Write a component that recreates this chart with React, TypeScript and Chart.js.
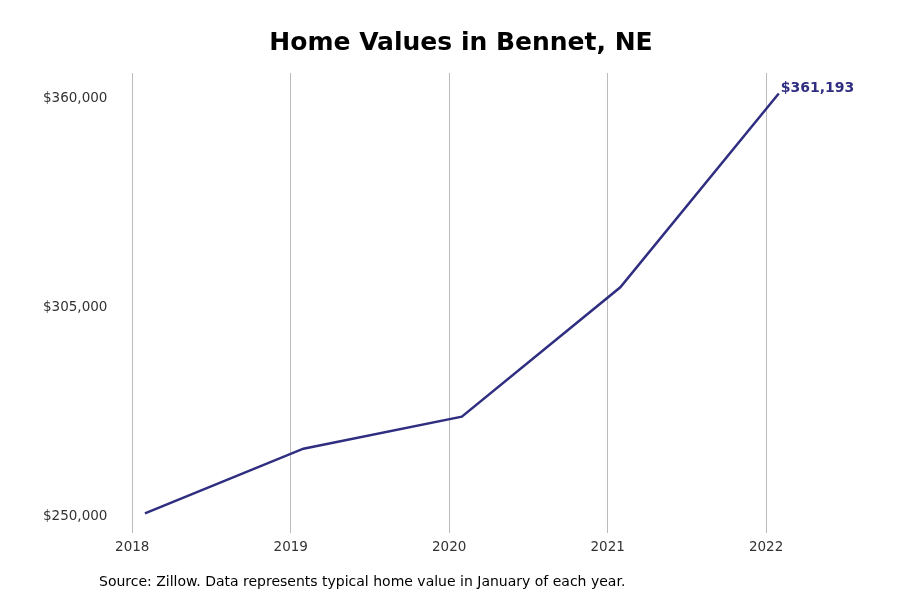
import { useEffect, useRef } from 'react';
import { Chart, registerables } from 'chart.js';

Chart.register(...registerables);

// January of each year, plotted a little after the year tick
const yearPositions = [2018.08, 2019.08, 2020.08, 2021.08, 2022.08];
const homeValues = [250900, 267900, 276300, 310300, 361193];
const yearTicks = [2018, 2019, 2020, 2021, 2022];
const valueTicks = [250000, 305000, 360000];

const TITLE = 'Home Values in Bennet, NE';
const SOURCE = 'Source: Zillow. Data represents typical home value in January of each year.';
const LINE = '#2f2e80';
const FONT = '"DejaVu Sans", sans-serif';

const money = (v: number) => '$' + Math.round(v).toLocaleString('en-US');

const textPlugin = {
  id: 'textPlugin',
  afterDraw(chart: any) {
    const ctx = chart.ctx;
    ctx.save();
    ctx.fillStyle = '#000';
    ctx.textBaseline = 'middle';
    ctx.textAlign = 'center';
    ctx.font = `bold 25px ${FONT}`;
    ctx.fillText(TITLE, 461, 43);
    ctx.textAlign = 'left';
    ctx.font = `14px ${FONT}`;
    ctx.fillText(SOURCE, 99, 582);

    const meta = chart.getDatasetMeta(0);
    const last = meta.data[meta.data.length - 1];
    const val = homeValues[homeValues.length - 1];
    ctx.fillStyle = LINE;
    ctx.font = `bold 14px ${FONT}`;
    ctx.fillText(money(val), last.x + 2, last.y - 5);
    ctx.restore();
  }
};

export default function App() {
  const ref = useRef<HTMLCanvasElement>(null);

  useEffect(() => {
    if (!ref.current) return;
    const chart = new Chart(ref.current, {
      type: 'line',
      data: {
        datasets: [{
          data: yearPositions.map((x, i) => ({ x, y: homeValues[i] })),
          borderColor: LINE,
          borderWidth: 2.5,
          pointRadius: 0,
          tension: 0,
          fill: false
        }]
      },
      options: {
        responsive: false,
        animation: false,
        layout: { padding: { top: 73, left: 34, right: 42, bottom: 37 } },
        plugins: {
          legend: { display: false },
          title: { display: false },
          tooltip: { enabled: false }
        },
        scales: {
          x: {
            type: 'linear',
            min: 2017.9,
            max: 2022.58,
            afterBuildTicks: (axis: any) => { axis.ticks = yearTicks.map(v => ({ value: v })); },
            grid: { display: true, color: '#bbbbbb', drawTicks: false, lineWidth: 1 },
            border: { display: false },
            ticks: {
              padding: 7,
              color: '#333',
              font: { family: FONT, size: 13.5 },
              callback: (v: any) => String(v)
            }
          },
          y: {
            min: 245800,
            max: 366600,
            afterBuildTicks: (axis: any) => { axis.ticks = valueTicks.map(v => ({ value: v })); },
            grid: { display: false, drawTicks: false },
            border: { display: false },
            ticks: {
              padding: 9,
              color: '#333',
              font: { family: FONT, size: 13.5 },
              callback: (v: any) => money(Number(v))
            }
          }
        }
      },
      plugins: [textPlugin]
    });
    return () => chart.destroy();
  }, []);

  return (
    <div style={{ position: 'absolute', left: 0, top: 0, width: 900, height: 600, background: '#fff' }}>
      <canvas ref={ref} width={900} height={600} />
    </div>
  );
}
